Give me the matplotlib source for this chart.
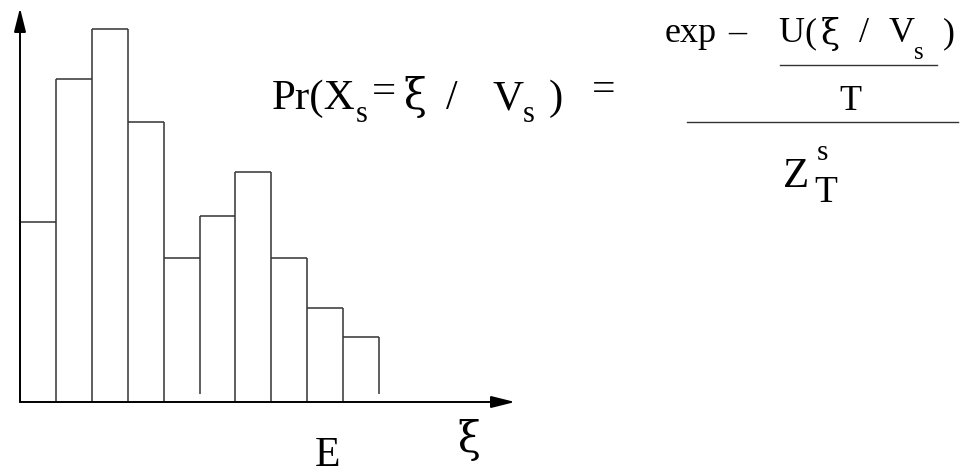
import matplotlib
matplotlib.use("Agg")
import matplotlib.pyplot as plt
from matplotlib.lines import Line2D

W, H, DPI = 963, 475, 100

# Histogram of the energy of configurations
bin_edges = list(range(11))
counts = [18.0, 32.3, 37.3, 28.0, 14.4, 18.6, 23.0, 14.4, 9.4, 6.5]
# lower end of each vertical bin separator (two are drawn slightly short)
edge_floor = [0, 0, 0, 0, 0, 0.8, 0, 0, 0, 0, 0.8]

x_label = "ξ"
band_label = "E"

BAR = "#333333"
INK = "black"
SERIF = ["Liberation Serif", "DejaVu Serif"]
GREEK = ["DejaVu Serif"]

fig = plt.figure(figsize=(W / DPI, H / DPI), dpi=DPI)
ax = fig.add_axes([20 / W, 73 / H, 495 / W, 394 / H])
ax.set_xlim(0, 495 / 35.9)
ax.set_ylim(0, 39.4)
ax.axis("off")

# bar tops
ax.hlines(counts, bin_edges[:-1], bin_edges[1:], color=BAR, lw=1.1)
# bar sides: each separator rises to the taller neighbour
edge_top = []
for i in range(len(bin_edges)):
    left = counts[i - 1] if i > 0 else 0
    right = counts[i] if i < len(counts) else 0
    edge_top.append(max(left, right))
ax.vlines(bin_edges, edge_floor, edge_top, color=BAR, lw=1.1)

# arrowed axes
arrow = dict(arrowstyle="-|>,head_length=14.4,head_width=3.6", mutation_scale=1,
             color=INK, lw=1.4, shrinkA=0, shrinkB=0)
ax.annotate("", xy=(1, 0), xytext=(0, 0), xycoords="axes fraction", arrowprops=arrow)
ax.annotate("", xy=(0, 1), xytext=(0, 0), xycoords="axes fraction", arrowprops=arrow)


def put(s, x, y, size, ha="center", family=SERIF):
    fig.text(x / W, 1 - y / H, s, fontsize=size, family=family, va="baseline", ha=ha, color=INK)


def rule(x0, x1, y, lw=1.0):
    fig.add_artist(Line2D([x0 / W, x1 / W], [1 - y / H, 1 - y / H],
                          transform=fig.transFigure, color="#333333", lw=lw))


# left-hand side: Pr(X_s = xi / V_s) =
put("Pr(X", 272, 109, 31, ha="left")
put("s", 361.5, 122, 22)
put("=", 384, 103, 31)
put("ξ", 414.5, 109, 30, family=GREEK)
put("/", 451.5, 109, 30)
put("V", 508.5, 109, 31)
put("s", 528.5, 122, 22)
put(")", 555.5, 109, 31)
put("=", 603.5, 101, 30)

# numerator: exp - U(xi / V_s) / T
put("exp", 665, 42, 26, ha="left")
put("–", 737.5, 42, 26)
put("U", 791.5, 42, 26)
put("(", 810, 42, 26)
put("ξ", 830, 44, 25, family=GREEK)
put("/", 863.5, 42, 26)
put("V", 901.5, 42, 26)
put("s", 919, 59, 18)
put(")", 949, 42, 26)
rule(780, 937, 65)
put("T", 850, 110, 26)

# fraction bar and denominator Z_T^s
rule(687, 958, 122)
put("Z", 796, 187, 31)
put("s", 822.5, 160, 21)
put("T", 826, 202, 27)

# axis annotations
put(band_label, 327.5, 466, 30)
put(x_label, 469, 452, 30, family=GREEK)

fig.savefig("out.png", dpi=DPI, facecolor="white")
